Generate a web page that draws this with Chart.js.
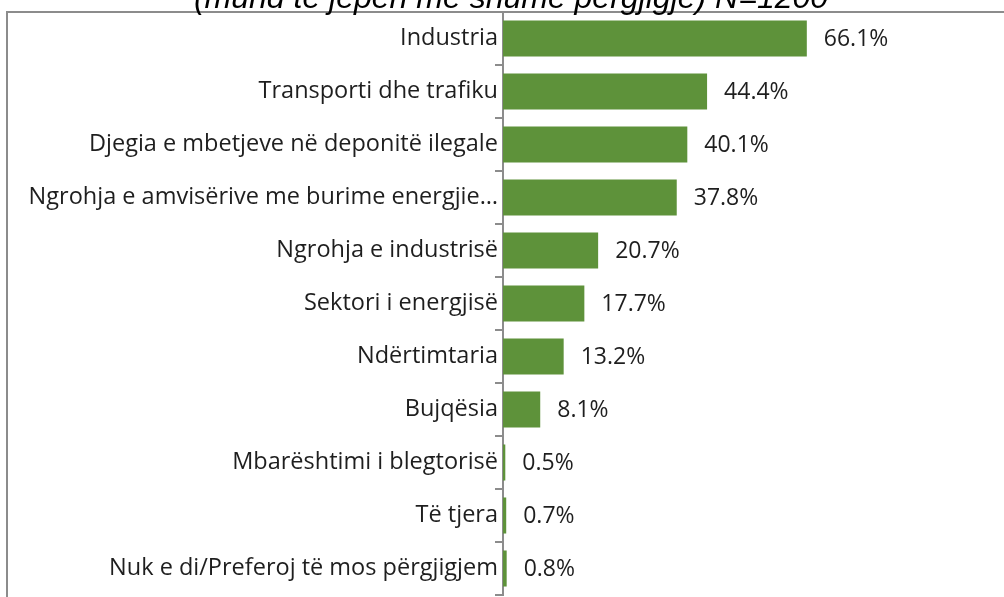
<!DOCTYPE html>
<html>
<head>
<meta charset="utf-8">
<script src="https://cdn.jsdelivr.net/npm/chart.js@4"></script>
<style>
  html, body { margin: 0; padding: 0; background: #fff; }
  #wrap { width: 1004px; height: 597px; position: relative; }
</style>
</head>
<body>
<div id="wrap"><canvas id="chart"></canvas></div>
<script>
// categories and shares (percent of respondents)
const categories = [
  "Industria",
  "Transporti dhe trafiku",
  "Djegia e mbetjeve në deponitë ilegale",
  "Ngrohja e amvisërive me burime energjie…",
  "Ngrohja e industrisë",
  "Sektori i energjisë",
  "Ndërtimtaria",
  "Bujqësia",
  "Mbarështimi i blegtorisë",
  "Të tjera",
  "Nuk e di/Preferoj të mos përgjigjem"
];
const shares = [66.1, 44.4, 40.1, 37.8, 20.7, 17.7, 13.2, 8.1, 0.5, 0.7, 0.8];
const titleText = "(mund të jepen më shumë përgjigje) N=1200";

const labelFont = { family: "'Open Sans', sans-serif", size: 23.5 };

// frame + cut-off title at the top
const frame = {
  id: "frame",
  beforeDraw(chart) {
    const ctx = chart.ctx;
    ctx.save();
    ctx.strokeStyle = "#8c8c8c";
    ctx.lineWidth = 2;
    ctx.strokeRect(7, 12, 1010, 600);
    ctx.restore();
  },
  afterDraw(chart) {
    const ctx = chart.ctx;
    ctx.save();
    ctx.fillStyle = "#000";
    ctx.font = "italic 32px 'Liberation Sans', Arial, sans-serif";
    ctx.textAlign = "center";
    ctx.textBaseline = "alphabetic";
    ctx.fillText(titleText, 511, 8);
    ctx.restore();
  }
};

// percentage labels at the end of each bar
const valueLabels = {
  id: "valueLabels",
  afterDatasetsDraw(chart) {
    const ctx = chart.ctx;
    const meta = chart.getDatasetMeta(0);
    ctx.save();
    ctx.fillStyle = "#1e1e1e";
    ctx.font = "23px " + labelFont.family;
    ctx.textAlign = "left";
    ctx.textBaseline = "middle";
    meta.data.forEach((bar, i) => {
      ctx.fillText(shares[i].toFixed(1) + "%", bar.x + 17, bar.y + 1);
    });
    ctx.restore();
  }
};

new Chart(document.getElementById("chart"), {
  type: "bar",
  data: {
    labels: categories,
    datasets: [{
      data: shares,
      backgroundColor: "#5e923a",
      borderWidth: 0,
      categoryPercentage: 0.68,
      barPercentage: 1
    }]
  },
  options: {
    indexAxis: "y",
    responsive: true,
    maintainAspectRatio: false,
    animation: false,
    layout: { padding: { top: 12, bottom: 2, left: 0, right: 0 } },
    plugins: {
      legend: { display: false },
      tooltip: { enabled: false }
    },
    scales: {
      x: {
        display: false,
        min: 0,
        max: 109
      },
      y: {
        afterFit(scale) {
          scale.width = 503;
          scale.paddingTop = 0;
          scale.paddingBottom = 0;
        },
        grid: {
          drawOnChartArea: false,
          offset: true,
          tickLength: 8,
          color: "#8c8c8c",
          lineWidth: 2
        },
        border: { color: "#8c8c8c", width: 2 },
        ticks: {
          color: "#1e1e1e",
          font: labelFont,
          padding: -3,
          autoSkip: false
        }
      }
    }
  },
  plugins: [frame, valueLabels]
});
</script>
</body>
</html>
